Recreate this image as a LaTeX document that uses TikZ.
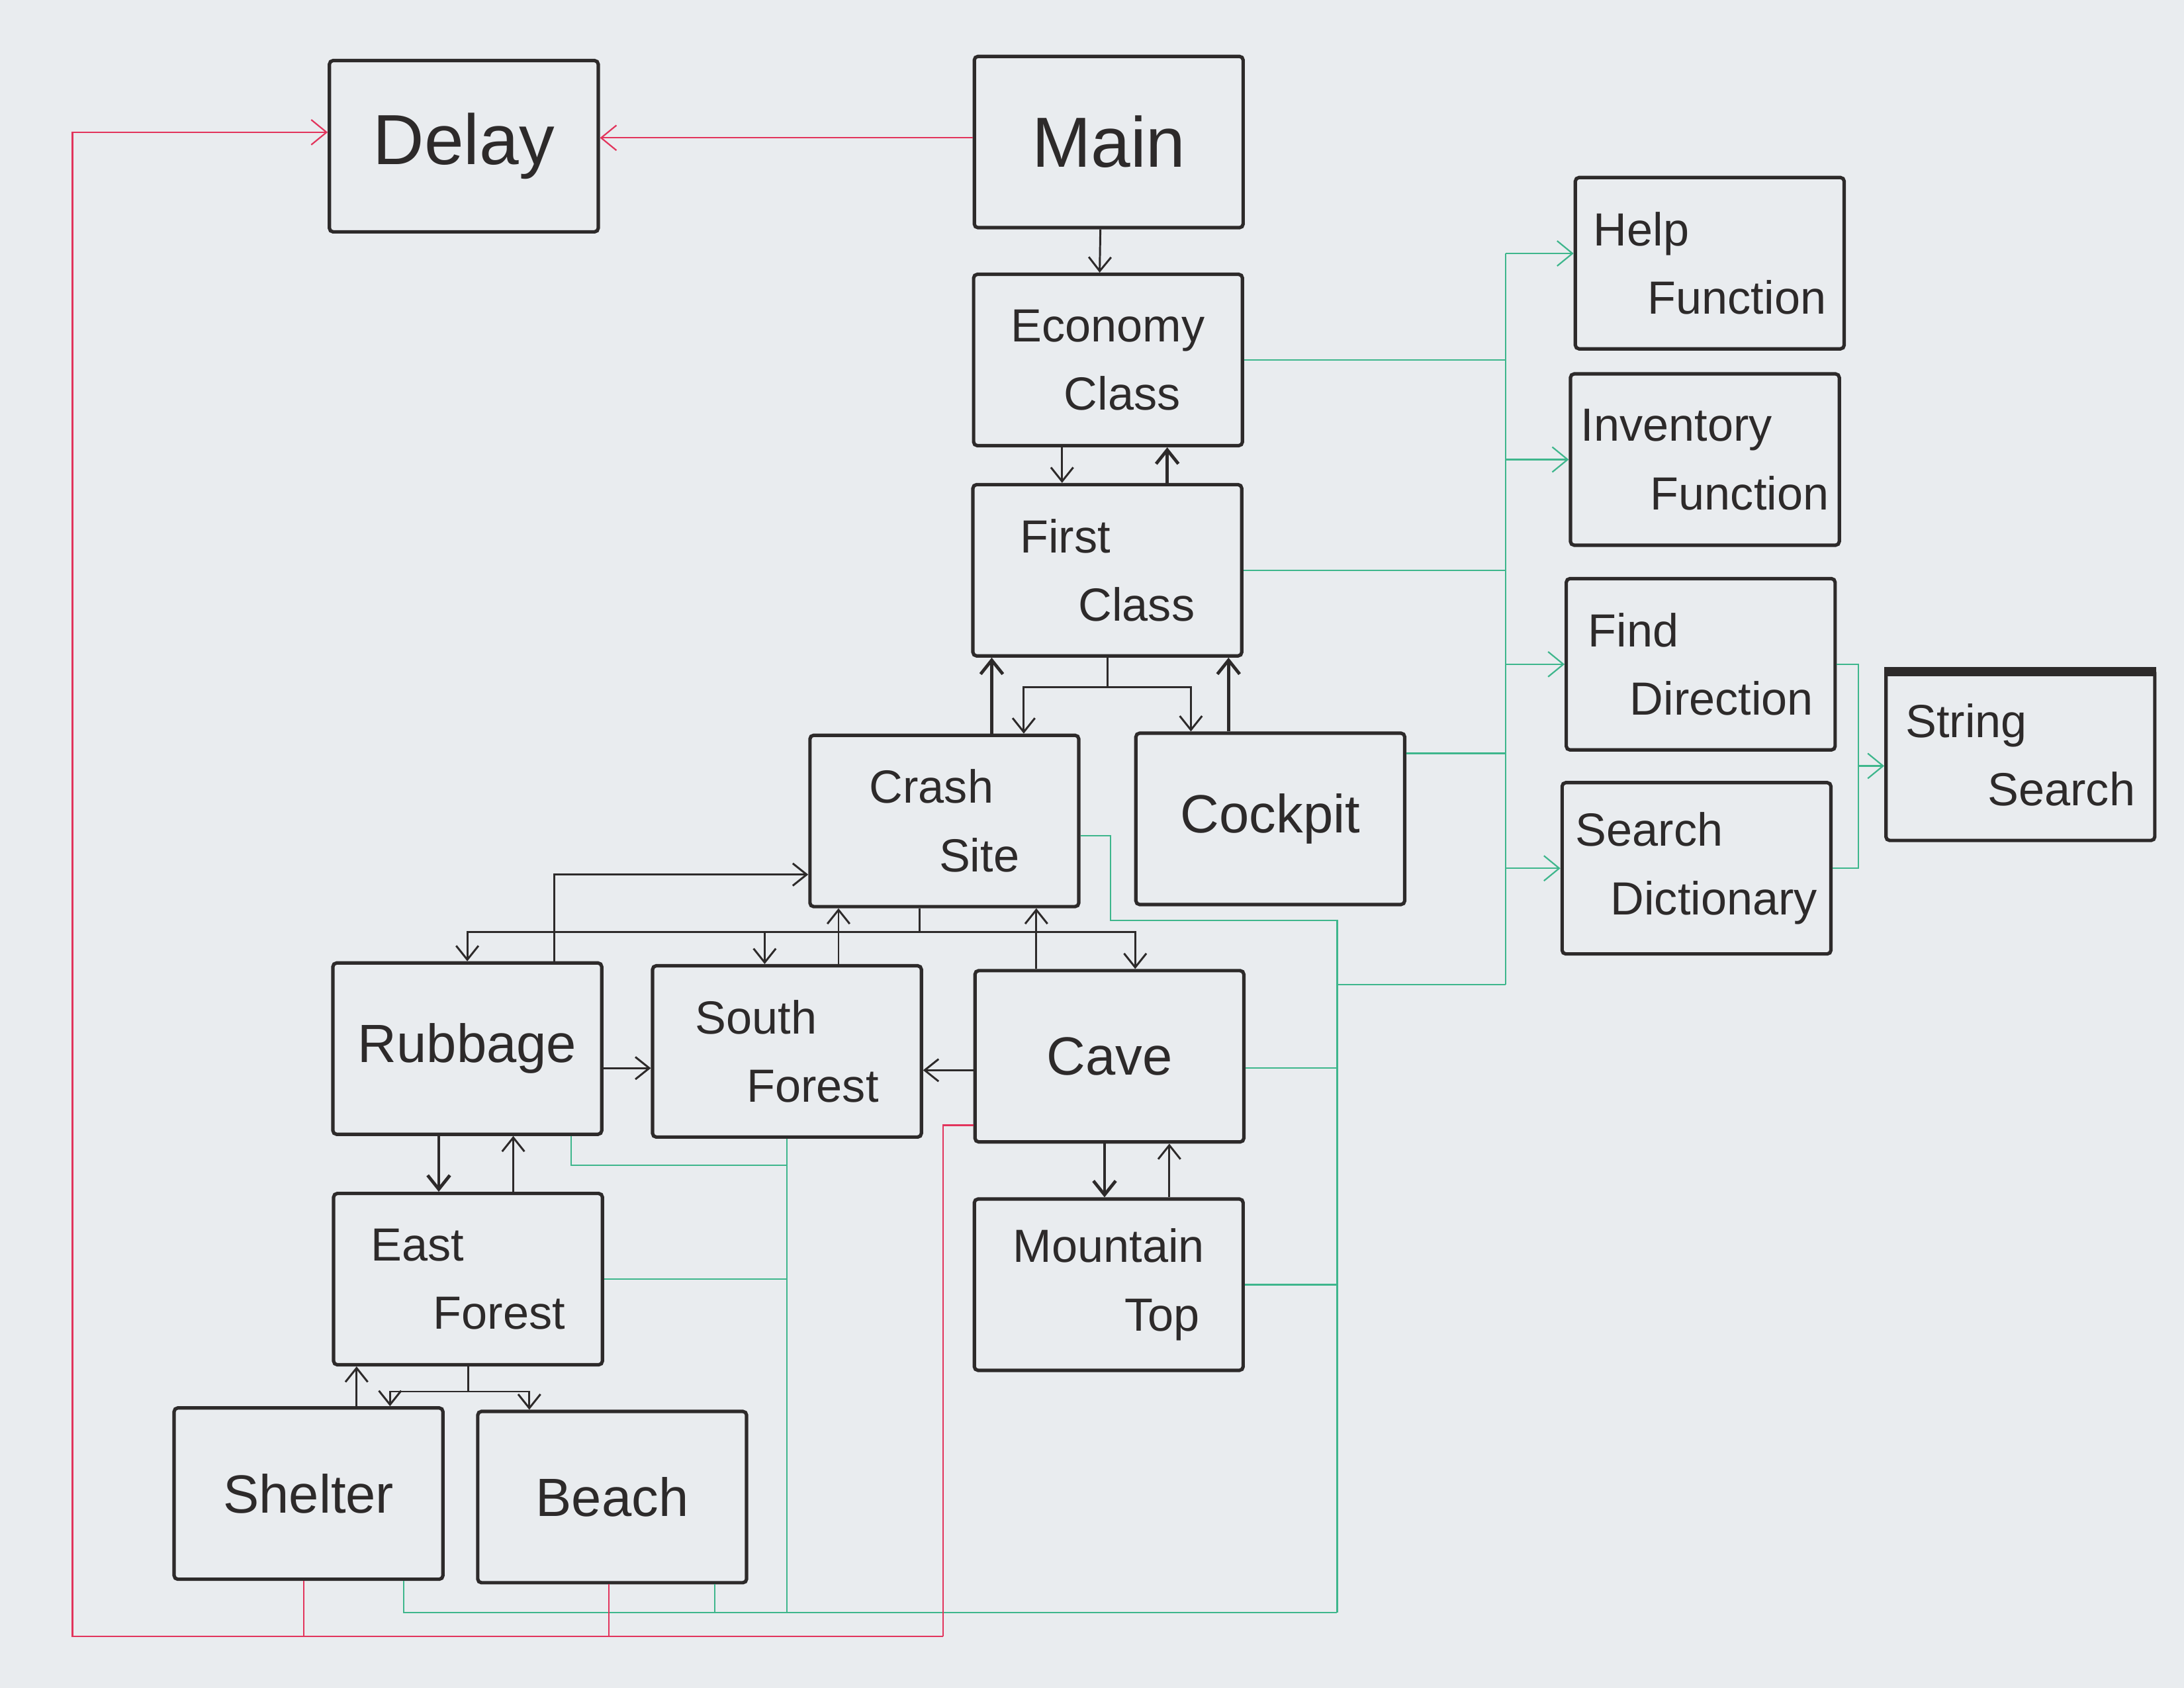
\documentclass[tikz,border=0pt]{standalone}
\usepackage{fontspec}
\setmainfont{Liberation Sans}
\usepackage{tikz}
\usetikzlibrary{arrows.meta,calc}
\definecolor{paper}{RGB}{233,236,239}
\definecolor{inkblack}{RGB}{45,42,42}
\definecolor{inkgreen}{RGB}{62,182,140}
\definecolor{inkred}{RGB}{226,52,92}
\tikzset{
  base/.style={font=\fontsize{19}{28}\selectfont, align=left, inner sep=2pt, text=inkblack},
  box/.style={base, rectangle, rounded corners=1.5pt, draw=inkblack, line width=1.4pt, minimum width=3.86cm, minimum height=2.46cm},
  bigbox/.style={box, font=\fontsize{29}{34}\selectfont},
  midbox/.style={box, font=\fontsize{22}{28}\selectfont},
  arr/.style={-{Straight Barb[length=2mm,width=3.2mm]}, line width=0.8pt, draw=inkblack},
  arrk/.style={arr, line width=1.3pt},
  link/.style={line width=0.6pt, draw=inkgreen},
  linkarr/.style={link, -{Straight Barb[length=2.2mm,width=3.6mm]}},
  back/.style={line width=0.6pt, draw=inkred},
  backarr/.style={back, -{Straight Barb[length=2.2mm,width=3.6mm]}},
}
\begin{document}
\begin{tikzpicture}
  \useasboundingbox (0,0) rectangle (31.36,24.24);
  \fill[paper] (0,0) rectangle (31.36,24.24);
  % game rooms
  \node[bigbox] (delay) at (6.66,22.14) {Delay};
  \node[bigbox] (main) at (15.92,22.2) {Main};
  \node[box] (econ) at (15.91,19.07) {Economy\\\hspace*{0.76cm}Class};
  \node[box] (first) at (15.9,16.05) {First\\\hspace*{0.84cm}Class};
  \node[box] (crash) at (13.56,12.45) {Crash\\\hspace*{1.0cm}Site};
  \node[midbox] (cockpit) at (18.24,12.48) {Cockpit};
  \node[midbox] (rubbage) at (6.71,9.18) {Rubbage};
  \node[box] (south) at (11.3,9.14) {South\\\hspace*{0.74cm}Forest};
  \node[midbox] (cave) at (15.93,9.07) {Cave};
  \node[box] (east) at (6.72,5.87) {East\\\hspace*{0.9cm}Forest};
  \node[box] (mtop) at (15.92,5.79) {Mountain\\\hspace*{1.6cm}Top};
  \node[midbox] (shelter) at (4.43,2.79) {Shelter};
  \node[midbox] (beach) at (8.79,2.74) {Beach};
  % helper functions
  \node[box] (help) at (24.55,20.46) {Help\\\hspace*{0.78cm}Function};
  \node[box] (inv) at (24.48,17.64) {Inventory\\\hspace*{1.0cm}Function};
  \node[box] (find) at (24.42,14.7) {Find\\\hspace*{0.6cm}Direction};
  \node[box] (dict) at (24.36,11.77) {Search\\\hspace*{0.5cm}Dictionary};
  \node[box] (strsearch) at (29.01,13.4) {String\\\hspace*{1.18cm}Search};
  \draw[inkblack,line width=4pt] ([yshift=-0.06cm]strsearch.north west) -- ([yshift=-0.06cm]strsearch.north east);

  % moves between rooms
  \draw[arr] ([xshift=-0.12cm]main.south) -- ([xshift=-0.12cm]econ.north);
  \draw[arr] ([xshift=-0.66cm]econ.south) -- ([xshift=-0.66cm]econ.south |- first.north);
  \draw[arrk] ([xshift=0.86cm]first.north) -- ([xshift=0.86cm]first.north |- econ.south);
  \draw[arr] (first.south) -- ++(0,-0.42) -| ([xshift=1.14cm]crash.north);
  \draw[arr] (first.south) -- ++(0,-0.42) -| ([xshift=-1.14cm]cockpit.north);
  \draw[arrk] ([xshift=0.68cm]crash.north) -- ([xshift=0.68cm]crash.north |- first.south);
  \draw[arrk] ([xshift=-0.6cm]cockpit.north) -- ([xshift=-0.6cm]cockpit.north |- first.south);
  \foreach \n/\dx in {rubbage/0,south/-0.32,cave/0.37}{
    \draw[arr] ([xshift=-0.36cm]crash.south) -- ++(0,-0.34) -| ([xshift=\dx cm]\n.north);
  }
  \draw[arr] ([xshift=0.74cm]south.north) -- ([xshift=0.74cm]south.north |- crash.south);
  \draw[arr] ([xshift=-1.05cm]cave.north) -- ([xshift=-1.05cm]cave.north |- crash.south);
  \draw[arr] ([xshift=1.25cm]rubbage.north) |- ([yshift=-0.77cm]crash.west);
  \draw[arr] ([yshift=-0.28cm]rubbage.east) -- ([yshift=-0.28cm]rubbage.east -| south.west);
  \draw[arr] ([yshift=-0.2cm]cave.west) -- ([yshift=-0.2cm]cave.west -| south.east);
  \draw[arrk] ([xshift=-0.41cm]rubbage.south) -- ([xshift=-0.41cm]rubbage.south |- east.north);
  \draw[arr] ([xshift=0.65cm]east.north) -- ([xshift=0.65cm]east.north |- rubbage.south);
  \draw[arrk] ([xshift=-0.07cm]cave.south) -- ([xshift=-0.07cm]cave.south |- mtop.north);
  \draw[arr] ([xshift=0.87cm]mtop.north) -- ([xshift=0.87cm]mtop.north |- cave.south);
  \draw[arr] (east.south) -- ++(0,-0.36) -| ([xshift=1.17cm]shelter.north);
  \draw[arr] (east.south) -- ++(0,-0.36) -| ([xshift=-1.19cm]beach.north);
  \draw[arr] ([xshift=0.69cm]shelter.north) -- ([xshift=0.69cm]shelter.north |- east.south);

  % calls to the helper functions
  \coordinate (busA) at (21.62,20.6);
  \coordinate (busB) at (21.62,10.1);
  \coordinate (busC) at (19.2,11.02);
  \coordinate (busD) at (19.2,1.08);
  \coordinate (busE) at ([xshift=0.31cm]find.east);
  \draw[link] (busA) -- (busB);
  \draw[linkarr] (busA) -- (busA -| help.west);
  \foreach \n in {inv,find,dict}{\draw[linkarr] (\n.west -| busA) -- (\n.west);}
  \draw[link] (econ.east) -- (econ.east -| busA);
  \draw[link] (first.east) -- (first.east -| busA);
  \draw[link] ([yshift=0.94cm]cockpit.east) -- ([yshift=0.94cm]cockpit.east -| busA);
  \draw[link] ([yshift=-0.21cm]crash.east) -- ++(0.43,0) |- (busC) -- (busD);
  \draw[link] (busC |- busB) -- (busB);
  \draw[link] ([yshift=-0.17cm]cave.east) -- ([yshift=-0.17cm]cave.east -| busC);
  \draw[link] (mtop.east) -- (mtop.east -| busC);
  \draw[link] (busD) -| ([xshift=1.37cm]shelter.south);
  \draw[link] ([xshift=1.47cm]beach.south) -- ([xshift=1.47cm]beach.south |- busD);
  \draw[link] (south.south) -- (south.south |- busD);
  \draw[link] (east.east) -- (east.east -| south.south);
  \draw[link] ([xshift=1.49cm]rubbage.south) |- ([yshift=-0.38cm]south.south);
  \draw[link] (find.east) -- (busE) |- (dict.east);
  \draw[linkarr] ([yshift=-0.16cm]strsearch.west -| busE) -- ([yshift=-0.16cm]strsearch.west);

  % calls to delay
  \coordinate (redL) at (1.04,0.74);
  \coordinate (redR) at (13.54,0.74);
  \draw[backarr] ([yshift=0.06cm]main.west) -- ([yshift=0.06cm]main.west -| delay.east);
  \draw[backarr] (redR) -- (redL) |- ([yshift=0.2cm]delay.west);
  \draw[back] ([yshift=-0.99cm]cave.west) -| (redR);
  \draw[back] ([xshift=-0.07cm]shelter.south) -- ([xshift=-0.07cm]shelter.south |- redL);
  \draw[back] ([xshift=-0.05cm]beach.south) -- ([xshift=-0.05cm]beach.south |- redL);
\end{tikzpicture}
\end{document}
